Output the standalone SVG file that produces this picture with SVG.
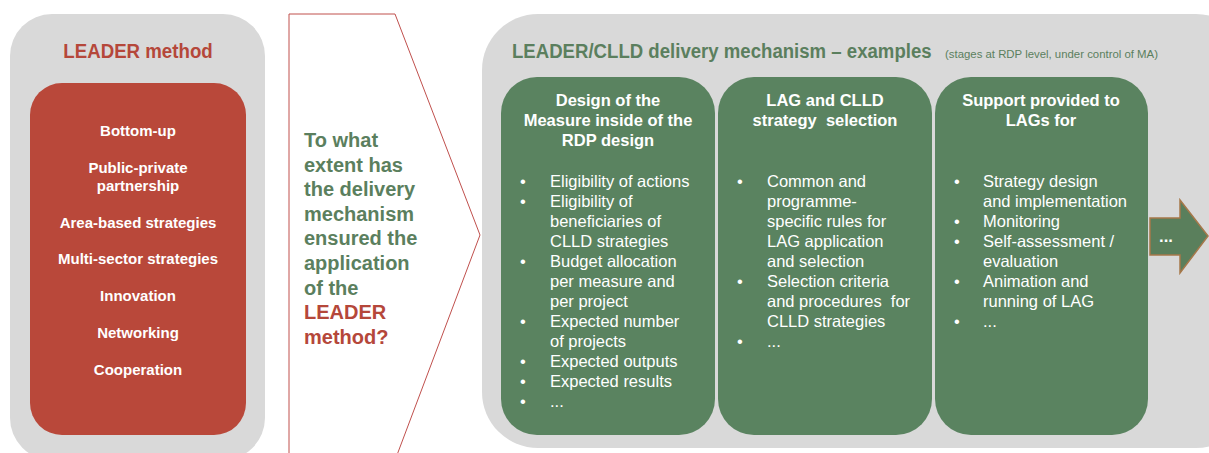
<svg xmlns="http://www.w3.org/2000/svg" width="1209" height="453" viewBox="0 0 1209 453">
<style>
text{font-family:"Liberation Sans",Arial,sans-serif}
.bg{fill:#d9d9d9}
.red{fill:#b9483a}
.grn{fill:#5a8360}
.item{fill:#fff;font-weight:bold;font-size:15px;text-anchor:middle}
.hd{fill:#fff;font-weight:bold;font-size:16.5px;text-anchor:middle}
.bl{fill:#fff;font-size:16.5px}
.q{font-weight:bold;font-size:20px;fill:#5b7f5e}
.qr{fill:#b5473a}
</style>
<rect width="1209" height="453" fill="#fff"/>
<g id="leader-method">
<rect class="bg" x="10" y="14" width="255" height="446" rx="42"/>
<text transform="translate(138,58) scale(0.89,1)" font-size="21" font-weight="bold" fill="#b5473a" text-anchor="middle">LEADER method</text>
<rect class="red" x="30" y="83" width="216" height="352" rx="32"/>
<text class="item" x="138" y="136">Bottom-up</text>
<text class="item" x="138" y="173">Public-private</text>
<text class="item" x="138" y="191">partnership</text>
<text class="item" x="138" y="228">Area-based strategies</text>
<text class="item" x="138" y="264">Multi-sector strategies</text>
<text class="item" x="138" y="301">Innovation</text>
<text class="item" x="138" y="338">Networking</text>
<text class="item" x="138" y="375">Cooperation</text>
</g>
<g id="question">
<polygon points="289,14 395,14 480,235 397,455 289,455" fill="#fff" stroke="#c0504d" stroke-width="1"/>
<text class="q" x="304" y="147">To what</text>
<text class="q" x="304" y="171.6">extent has</text>
<text class="q" x="304" y="196.2">the delivery</text>
<text class="q" x="304" y="220.8">mechanism</text>
<text class="q" x="304" y="245.4">ensured the</text>
<text class="q" x="304" y="270">application</text>
<text class="q" x="304" y="294.6">of the</text>
<text class="q qr" x="304" y="319.2">LEADER</text>
<text class="q qr" x="304" y="343.8">method?</text>
</g>
<g id="delivery">
<rect class="bg" x="482" y="14" width="770" height="434" rx="56"/>
<text transform="translate(512,58) scale(0.886,1)" font-size="21" font-weight="bold" fill="#5b7f5e">LEADER/CLLD delivery mechanism – examples</text>
<text x="945" y="58" font-size="11" fill="#5b7f5e" textLength="213" lengthAdjust="spacingAndGlyphs">(stages at RDP level, under control of MA)</text>
</g>
<g id="box-design">
<rect class="grn" x="501" y="77" width="214" height="358" rx="36"/>
<text class="hd" x="608" y="106">Design of the</text>
<text class="hd" x="608" y="126">Measure inside of the</text>
<text class="hd" x="608" y="146">RDP design</text>
<g class="bl">
<text x="520" y="187">•</text><text x="550" y="187">Eligibility of actions</text>
<text x="520" y="207">•</text><text x="550" y="207">Eligibility of</text>
<text x="550" y="227">beneficiaries of</text>
<text x="550" y="247">CLLD strategies</text>
<text x="520" y="267">•</text><text x="550" y="267">Budget allocation</text>
<text x="550" y="287">per measure and</text>
<text x="550" y="307">per project</text>
<text x="520" y="327">•</text><text x="550" y="327">Expected number</text>
<text x="550" y="347">of projects</text>
<text x="520" y="367">•</text><text x="550" y="367">Expected outputs</text>
<text x="520" y="387">•</text><text x="550" y="387">Expected results</text>
<text x="520" y="407">•</text><text x="550" y="407">...</text>
</g>
</g>
<g id="box-selection">
<rect class="grn" x="718" y="77" width="214" height="358" rx="36"/>
<text class="hd" x="825" y="106">LAG and CLLD</text>
<text class="hd" x="825" y="126" xml:space="preserve">strategy  selection</text>
<g class="bl">
<text x="737" y="187">•</text><text x="767" y="187">Common and</text>
<text x="767" y="207">programme-</text>
<text x="767" y="227">specific rules for</text>
<text x="767" y="247">LAG application</text>
<text x="767" y="267">and selection</text>
<text x="737" y="287">•</text><text x="767" y="287">Selection criteria</text>
<text x="767" y="307" xml:space="preserve">and procedures  for</text>
<text x="767" y="327">CLLD strategies</text>
<text x="737" y="347">•</text><text x="767" y="347">...</text>
</g>
</g>
<g id="box-support">
<rect class="grn" x="935" y="77" width="213" height="358" rx="36"/>
<text class="hd" x="1041" y="106">Support provided to</text>
<text class="hd" x="1041" y="126">LAGs for</text>
<g class="bl">
<text x="954" y="187">•</text><text x="983" y="187">Strategy design</text>
<text x="983" y="207">and implementation</text>
<text x="954" y="227">•</text><text x="983" y="227">Monitoring</text>
<text x="954" y="247">•</text><text x="983" y="247">Self-assessment /</text>
<text x="983" y="267">evaluation</text>
<text x="954" y="287">•</text><text x="983" y="287">Animation and</text>
<text x="983" y="307">running of LAG</text>
<text x="954" y="327">•</text><text x="983" y="327">...</text>
</g>
</g>
<g id="connectors">
<polygon points="1150,218 1180,218 1180,200 1208,236 1180,273 1180,255 1150,255" fill="#5a7f5c" stroke="#a6784a" stroke-width="1.5"/>
<text x="1166" y="242" font-size="16.5" font-weight="bold" fill="#fff" text-anchor="middle">...</text>
</g>
</svg>
